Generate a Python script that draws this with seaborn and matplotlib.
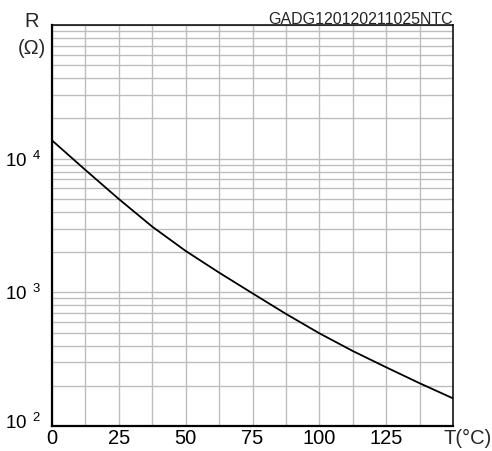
import matplotlib
matplotlib.use("Agg")
import matplotlib.pyplot as plt
import matplotlib.transforms as mtransforms
import seaborn as sns
import pandas as pd
import numpy as np
from matplotlib.ticker import FixedLocator, LogLocator, NullFormatter

# ---- data ----
temps_c = [0, 12.5, 25, 37.5, 50, 62.5, 75, 87.5, 100, 112.5, 125, 137.5, 150]
resist_ohm = [13700, 8230, 4990, 3100, 2040, 1405, 983, 690, 494, 364, 275, 209, 161]
x_tick_vals = [0, 25, 50, 75, 100, 125, 150]
x_tick_labels = ["0", "25", "50", "75", "100", "125", ""]
y_tick_vals = [1e2, 1e3, 1e4, 1e5]
y_tick_labels = [r"$\mathregular{10\ {}^{2}}$", r"$\mathregular{10\ {}^{3}}$",
                 r"$\mathregular{10\ {}^{4}}$", ""]
title_text = "GADG120120211025NTC"

sns.set_theme(style="white")
plt.rcParams["font.family"] = ["Liberation Sans", "DejaVu Sans"]
plt.rcParams["mathtext.fontset"] = "custom"
plt.rcParams["mathtext.rm"] = "Liberation Sans"

df = pd.DataFrame({"T": temps_c, "R": resist_ohm})

fig = plt.figure(figsize=(4.92, 4.51), dpi=100)
ax = fig.add_axes([52/492, 1-426/451, 401/492, 401/451])

sns.lineplot(data=df, x="T", y="R", ax=ax, color="black", linewidth=1.3)

ax.set_yscale("log")
ax.set_xlim(0, 150)
ax.set_ylim(1e2, 1e5)

ax.set_xticks(x_tick_vals)
ax.set_xticklabels(x_tick_labels)
ax.xaxis.set_minor_locator(FixedLocator(np.arange(12.5, 150, 25)))
ax.set_yticks(y_tick_vals)
ax.set_yticklabels(y_tick_labels)
ax.yaxis.set_minor_locator(LogLocator(base=10, subs=np.arange(2, 10)))
ax.yaxis.set_minor_formatter(NullFormatter())

ax.grid(True, which="both", color="#bdbdbd", linewidth=1.0)
ax.set_axisbelow(True)

ax.tick_params(axis="both", which="both", length=0, colors="black")
ax.tick_params(axis="x", pad=2, labelsize=14.5)
ax.tick_params(axis="y", pad=8, labelsize=13.5)

# lift the lowest y label a little, as in the reference
lbl = ax.get_yticklabels()[0]
lbl.set_transform(lbl.get_transform() + mtransforms.ScaledTranslation(0, 5/100, fig.dpi_scale_trans))

for s in ax.spines.values():
    s.set_color("black")
    s.set_linewidth(1.1)
ax.spines["left"].set_linewidth(1.6)
ax.spines["bottom"].set_linewidth(1.6)

ax.set_xlabel("")
ax.set_ylabel("")

# labels
fig.text(32/492, 1-27/451, "R", ha="center", va="baseline", fontsize=14.5)
fig.text(32/492, 1-54.5/451, "(Ω)", ha="center", va="baseline", fontsize=14.5)
fig.text(453/492, 1-24/451, title_text, ha="right", va="baseline", fontsize=11.5)
fig.text(443/492, 1-443.5/451, "T(°C)", ha="left", va="baseline", fontsize=14.5)

fig.savefig("out.png", dpi=100, facecolor="white")
